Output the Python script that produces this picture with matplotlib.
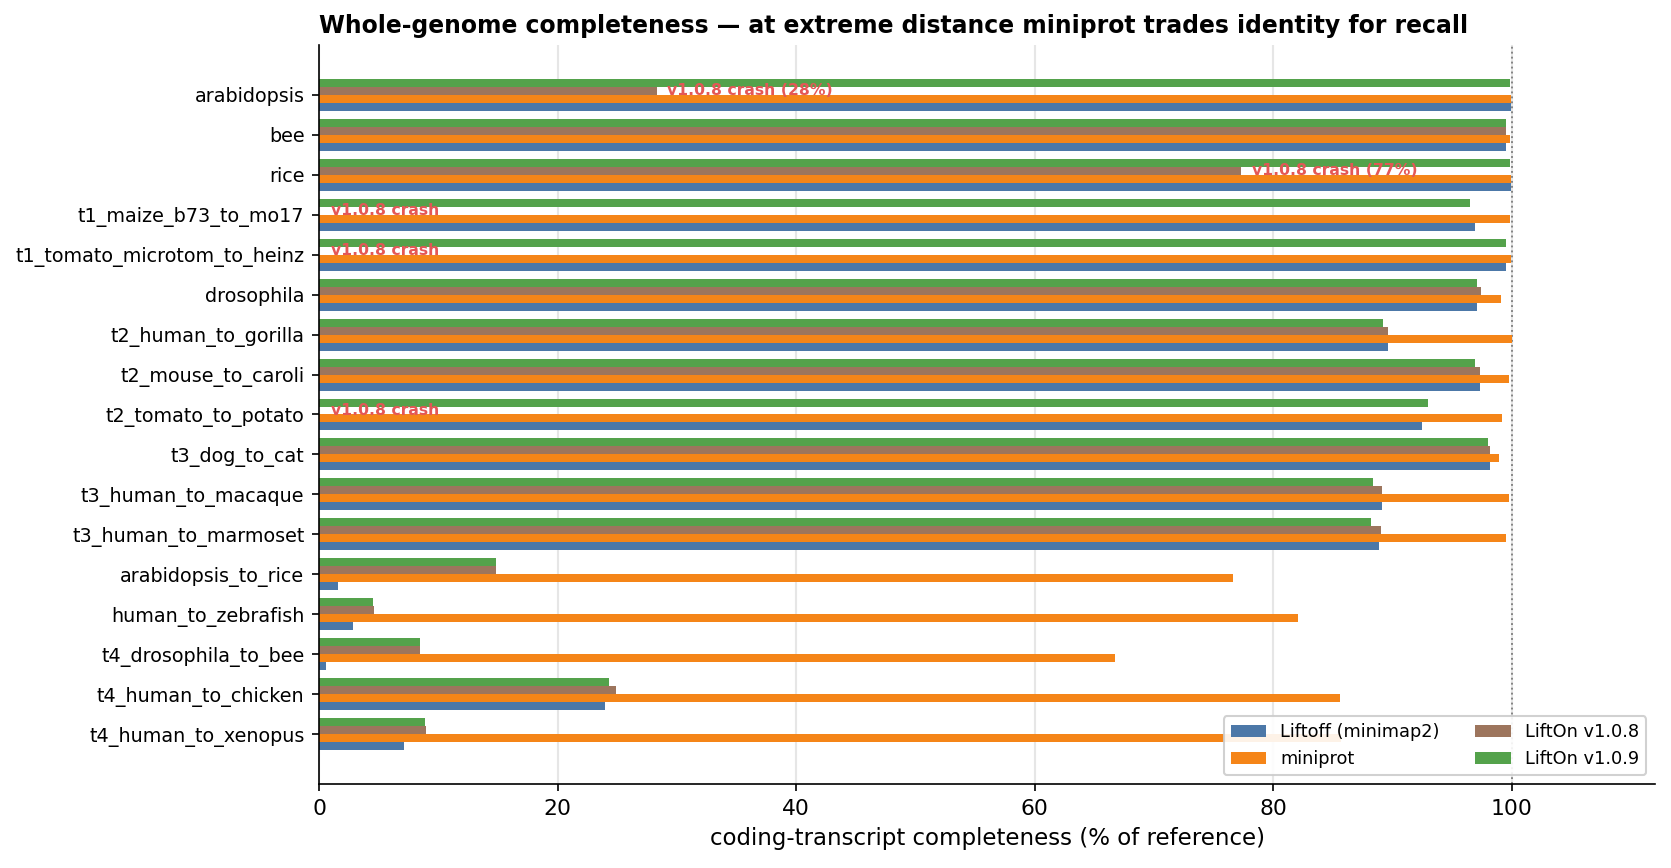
import matplotlib
matplotlib.use("Agg")
import matplotlib.pyplot as plt
import numpy as np

categories = ["arabidopsis", "bee", "rice", "t1_maize_b73_to_mo17",
              "t1_tomato_microtom_to_heinz", "drosophila", "t2_human_to_gorilla",
              "t2_mouse_to_caroli", "t2_tomato_to_potato", "t3_dog_to_cat",
              "t3_human_to_macaque", "t3_human_to_marmoset", "arabidopsis_to_rice",
              "human_to_zebrafish", "t4_drosophila_to_bee", "t4_human_to_chicken",
              "t4_human_to_xenopus"]

liftoff = [99.9, 99.5, 99.9, 96.9, 99.5, 97.1, 89.6, 97.3, 92.5, 98.2,
           89.1, 88.9, 1.6, 2.85, 0.6, 24.0, 7.1]
miniprot = [99.9, 99.85, 99.9, 99.85, 99.9, 99.1, 100.0, 99.75, 99.2, 98.9,
            99.75, 99.5, 76.6, 82.1, 66.7, 85.6, 85.7]
lifton108 = [28.3, 99.5, 77.3, np.nan, np.nan, 97.4, 89.6, 97.3, np.nan, 98.2,
             89.1, 89.0, 14.8, 4.6, 8.45, 24.9, 8.95]
lifton109 = [99.85, 99.5, 99.85, 96.5, 99.5, 97.1, 89.2, 96.9, 93.0, 98.0,
             88.4, 88.2, 14.8, 4.5, 8.45, 24.3, 8.9]

crash_labels = {0: "v1.0.8 crash (28%)", 2: "v1.0.8 crash (77%)",
                3: "v1.0.8 crash", 4: "v1.0.8 crash", 8: "v1.0.8 crash"}

series = [
    ("Liftoff (minimap2)", liftoff, "#4c78a8", 0.3),
    ("miniprot", miniprot, "#f58518", 0.1),
    ("LiftOn v1.0.8", lifton108, "#9d755d", -0.1),
    ("LiftOn v1.0.9", lifton109, "#54a24b", -0.3),
]

fig = plt.figure(figsize=(1671/150, 868/150), dpi=150)
ax = fig.add_axes([319/1671, 1-784/868, (1655-319)/1671, (784-45)/868])

y = np.arange(len(categories))
h = 0.2
handles = {}
for name, vals, col, off in series:
    v = np.nan_to_num(np.array(vals, dtype=float), nan=0.0)
    handles[name] = ax.barh(y + off, v, height=h, color=col, label=name, zorder=2)

for i, txt in crash_labels.items():
    v = lifton108[i]
    xpos = 1.0 if np.isnan(v) else v + 0.9
    ax.text(xpos, y[i] - 0.1, txt, color="#e45756", fontsize=7.5,
            fontweight="bold", va="center", ha="left", zorder=3)

ax.axvline(100, color="gray", linestyle=":", linewidth=0.9, zorder=1)
ax.set_yticks(y)
ax.set_yticklabels(categories, fontsize=9.2)
ax.invert_yaxis()
ax.set_xlim(0, 112)
ax.set_xticks([0, 20, 40, 60, 80, 100])
ax.tick_params(axis="x", labelsize=10.5)
ax.xaxis.grid(True, color="#e6e6e6", linewidth=1.0, zorder=0)
ax.set_axisbelow(True)
ax.spines["top"].set_visible(False)
ax.spines["right"].set_visible(False)
ax.set_xlabel("coding-transcript completeness (% of reference)", fontsize=11)
ax.set_title("Whole-genome completeness — at extreme distance miniprot trades identity for recall",
             fontsize=11.3, fontweight="bold", loc="left")
ax.legend(handles=[handles["Liftoff (minimap2)"], handles["miniprot"],
                   handles["LiftOn v1.0.8"], handles["LiftOn v1.0.9"]],
          ncol=2, loc="lower right", fontsize=8.5, framealpha=0.9)

fig.savefig("out.png", dpi=150)
